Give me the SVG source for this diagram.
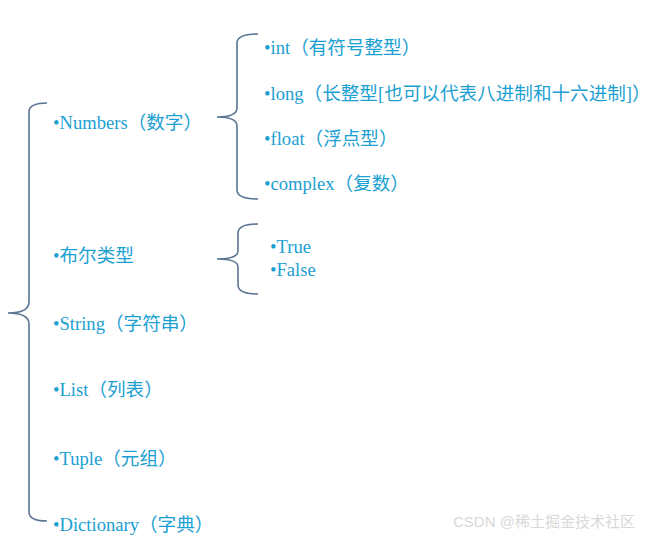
<svg xmlns="http://www.w3.org/2000/svg" width="651" height="544" viewBox="0 0 651 544">
<style>
text{font-family:"Liberation Serif","Noto Sans CJK SC",serif;font-size:18.6px;fill:#1ba0d2}
.b{fill:none;stroke:#5b7592;stroke-width:1.6}
.wm{font-family:"Liberation Sans","Noto Sans CJK SC",sans-serif;font-size:15px;fill:#d8d8d8}
</style>
<rect width="651" height="544" fill="#fff"/>
<g id="connectors">
<path class="b" d="M47 103 Q29 103 29 112 L29 302 Q29 313 8 313 Q29 313 29 324 L29 512 Q29 521 47 521"/>
<path class="b" d="M258 34 Q237 34 237 43 L237 108 Q237 117 217 117 Q237 117 237 126 L237 190 Q237 199 258 199"/>
<path class="b" d="M258 224 Q238 224 238 233 L238 251 Q238 259 217 259 Q238 259 238 267 L238 285 Q238 294 258 294"/>
</g>
<g id="numbers"><text x="53" y="129">•Numbers（数字）</text></g>
<g id="int"><text x="264" y="54">•int（有符号整型）</text></g>
<g id="long"><text x="264" y="100">•long（长整型[也可以代表八进制和十六进制]）</text></g>
<g id="float"><text x="264" y="145">•float（浮点型）</text></g>
<g id="complex"><text x="264" y="190">•complex（复数）</text></g>
<g id="bool"><text x="53" y="262">•布尔类型</text></g>
<g id="true"><text x="270" y="253">•True</text></g>
<g id="false"><text x="270" y="276">•False</text></g>
<g id="string"><text x="53" y="330">•String（字符串）</text></g>
<g id="list"><text x="53" y="396">•List（列表）</text></g>
<g id="tuple"><text x="53" y="465">•Tuple（元组）</text></g>
<g id="dict"><text x="53" y="531">•Dictionary（字典）</text></g>
<text class="wm" x="453" y="527">CSDN @稀土掘金技术社区</text>
</svg>
